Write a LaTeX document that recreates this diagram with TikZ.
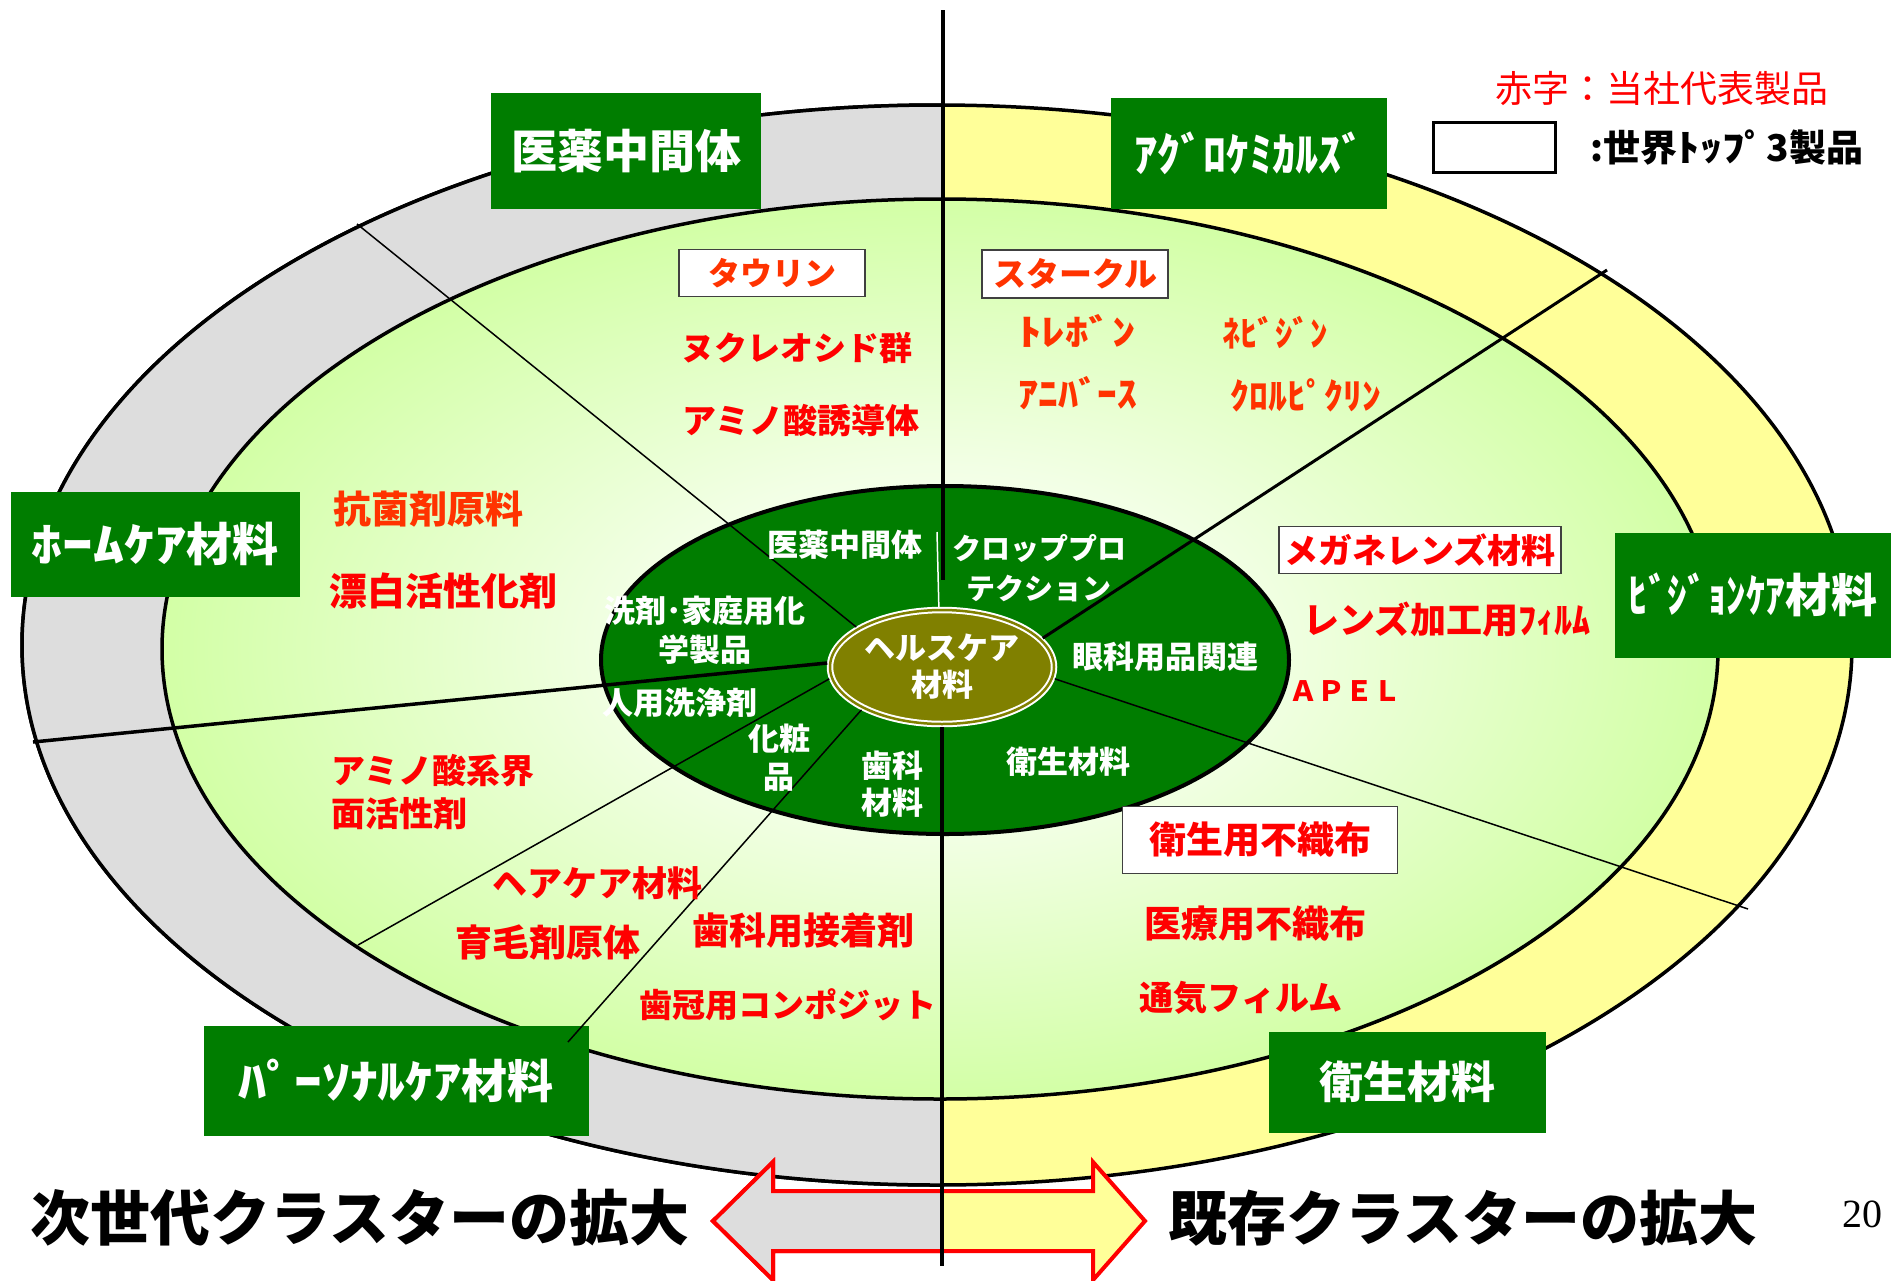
\documentclass[tikz,border=0pt]{standalone}
\usepackage{fontspec}
\usepackage{graphicx}
\usepackage{tikz}
\usetikzlibrary{shapes.geometric}
\setmainfont{Noto Sans CJK JP}
\newfontfamily\pagenum{Liberation Serif}

\definecolor{dkgreen}{RGB}{0,125,0}
\definecolor{ringgray}{RGB}{221,221,221}
\definecolor{ringyellow}{RGB}{255,255,153}
\definecolor{lgreen}{RGB}{204,255,153}
\definecolor{olivefill}{RGB}{128,128,0}
\definecolor{orangered}{RGB}{255,51,0}
\pgfdeclareradialshading{glow}{\pgfpoint{0bp}{0bp}}{color(0bp)=(white); color(10bp)=(white!75!lgreen); color(28bp)=(lgreen); color(50bp)=(lgreen)}

\newcommand{\fsz}[2]{\fontsize{#1}{#2}\selectfont}
\newcommand{\hw}[2]{\scalebox{#1}[1]{#2}}

\tikzset{
  catbox/.style={rectangle,fill=dkgreen,text=white,inner sep=0pt,font=\bfseries\fsz{46}{46}},
  topthree/.style={rectangle,fill=white,draw=black!75,line width=1.5pt,inner sep=0pt,text=red},
  prod/.style={text=red,font=\bfseries\fsz{#1}{#1}},
  inlabel/.style={text=white,align=center,font=\bfseries\fsz{31}{38}},
  divider/.style={line width=1.5pt},
}

\begin{document}
\begin{tikzpicture}[x=1pt,y=-1pt]
\useasboundingbox (0,0) rectangle (1903,1280);
\draw [line width=3.5pt,fill=ringyellow] (937,645) ellipse [x radius=915pt,y radius=540pt];
\begin{scope}
\clip (0,0) rectangle (943,1280);
\draw [line width=3.5pt,fill=ringgray] (937,645) ellipse [x radius=915pt,y radius=540pt];
\end{scope}
\shadedraw [shading=glow,line width=3.5pt] (940,649) ellipse [x radius=778pt,y radius=450pt];

\draw [red,line width=4pt,fill=ringyellow] (713,1221) -- (773,1162) -- (773,1191) -- (1093,1191) -- (1093,1162) -- (1145,1221) -- (1093,1280) -- (1093,1251) -- (773,1251) -- (773,1280) -- cycle;
\begin{scope}
\clip (0,0) rectangle (943,1280);
\draw [red,line width=4pt,fill=ringgray] (713,1221) -- (773,1162) -- (773,1191) -- (1093,1191) -- (1093,1162) -- (1145,1221) -- (1093,1280) -- (1093,1251) -- (773,1251) -- (773,1280) -- cycle;
\end{scope}

\node (pharma) at (626,151) [catbox,minimum width=270,minimum height=116] {医薬中間体};
\node (agro) at (1249,153) [catbox,minimum width=276,minimum height=111] {ｱｸﾞﾛｹﾐｶﾙｽﾞ};
\node (home) at (155,544) [catbox,minimum width=289,minimum height=105] {\hw{1.34}{ﾎｰﾑｹｱ}材料};
\node (vision) at (1753,595) [catbox,minimum width=276,minimum height=125] {\hw{0.85}{ﾋﾞｼﾞｮﾝｹｱ}材料};
\node (personal) at (396,1081) [catbox,minimum width=385,minimum height=110] {\hw{1.21}{ﾊﾟｰｿﾅﾙｹｱ}材料};
\node (hygiene) at (1407,1082) [catbox,minimum width=277,minimum height=101,font=\bfseries\fsz{44}{44}] {衛生材料};

\node (core) at (945,660) [ellipse,draw,line width=4pt,fill=dkgreen,minimum width=688,minimum height=348] {};
\node (hc) at (942,667) [ellipse,fill=olivefill,draw=white,double=olivefill,double distance=2.5pt,line width=2pt,minimum width=224,minimum height=114,inner sep=0pt,outer sep=3pt,inlabel,font=\bfseries\fsz{31}{37}] {ヘルスケア\\材料};

\coordinate (vtop) at (943,10);
\coordinate (vmid) at (943,580);
\coordinate (vbot) at (942,1266);
\coordinate (wtop) at (937,532);
\coordinate (ul) at (357,224);
\coordinate (ur) at (1607,270);
\coordinate (lf) at (33,742);
\coordinate (ll1) at (358,945);
\coordinate (ll2) at (568,1042);
\coordinate (lr) at (1748,909);

\draw [line width=4pt] (vtop) -- (vmid);
\draw [white,line width=1.5pt] (hc.93) -- (wtop);
\draw [line width=4pt] (hc.south) -- (vbot);
\draw [divider] (hc.155) -- (ul);
\draw [line width=3pt] (hc.16) -- (ur);
\draw [line width=3.5pt] (hc.178) -- (lf);
\draw [divider] (hc.186) -- (ll1);
\draw [divider] (hc.208) -- (ll2);
\draw [divider] (hc.354) -- (lr);

\node (taurine) at (772,273) [topthree,minimum width=186,minimum height=47,text=orangered,font=\bfseries\fsz{32}{32}] {タウリン};
\node (starcle) at (1075,274) [topthree,minimum width=186,minimum height=48,text=orangered,font=\bfseries\fsz{33}{33}] {スタークル};
\node (glasses) at (1420,550) [topthree,minimum width=282,minimum height=47,font=\bfseries\fsz{34}{34}] {メガネレンズ材料};
\node (nonwoven) at (1260,840) [topthree,minimum width=275,minimum height=67,font=\bfseries\fsz{37}{37}] {衛生用不織布};

\node (nucleo) at (797,348) [prod=33] {ヌクレオシド群};
\node (amino) at (801,421) [prod=34] {アミノ酸誘導体};
\node (antibac) at (428,509) [prod=38,text=orangered] {抗菌剤原料};
\node (bleach) at (443,591) [prod=38] {漂白活性化剤};
\node (trebon) at (1077,331) [prod=36,text=orangered] {\hw{1.3}{ﾄﾚﾎﾞﾝ}};
\node (anibas) at (1078,393) [prod=36,text=orangered] {\hw{1.1}{ｱﾆﾊﾞｰｽ}};
\node (nebijin) at (1275,333) [prod=35,text=orangered] {ﾈﾋﾞｼﾞﾝ};
\node (picrin) at (1306,395) [prod=36,text=orangered] {\hw{1.05}{ｸﾛﾙﾋﾟｸﾘﾝ}};
\node (lensfilm) at (1447,620) [prod=36] {レンズ加工用ﾌｨﾙﾑ};
\node (apel) at (1345,691) [prod=28] {ＡＰＥＬ};
\node (medical) at (1255,924) [prod=37] {医療用不織布};
\node (breath) at (1241,998) [prod=34] {通気フィルム};
\node (surfact) at (328,792) [prod=34,anchor=west,align=left,font=\bfseries\fsz{34}{43}] {アミノ酸系界\\面活性剤};
\node (hair) at (597,883) [prod=35] {ヘアケア材料};
\node (growth) at (548,942) [prod=37] {育毛剤原体};
\node (adhesive) at (803,930) [prod=37] {歯科用接着剤};
\node (crown) at (788,1005) [prod=33] {歯冠用コンポジット};

\node (pharma2) at (845,545) [inlabel] {医薬中間体};
\node (crop) at (1039,568) [inlabel,font=\bfseries\fsz{29}{40}] {クロッププロ\\テクション};
\node (ophth) at (1165,657) [inlabel] {眼科用品関連};
\node (detergent) at (705,630) [inlabel,font=\bfseries\fsz{31}{39}] {洗剤･家庭用化\\学製品};
\node (cleanser) at (680,703) [inlabel] {人用洗浄剤};
\node (cosme) at (779,758) [inlabel] {化粧\\品};
\node (dental) at (892,784) [inlabel,font=\bfseries\fsz{31}{37}] {歯科\\材料};
\node (hygiene2) at (1068,762) [inlabel] {衛生材料};

\node (keynote) at (1662,89) [text=red,font=\fsz{37}{37}] {赤字：当社代表製品};
\node (keybox) at (1494,147) [rectangle,draw,line width=3pt,fill=white,minimum width=122,minimum height=50] {};
\node (keytext) at (1727,148) [font=\bfseries\fsz{37}{37}] {:世界\hw{1.2}{ﾄｯﾌﾟ}3製品};

\node (nextgen) at (360,1218) [font=\bfseries\fsz{60}{60}] {次世代クラスターの拡大};
\node (existing) at (1463,1218) [font=\bfseries\fsz{59}{59}] {既存クラスターの拡大};
\node (pageno) at (1862,1214) [font=\pagenum\fsz{40}{40}] {20};
\end{tikzpicture}
\end{document}
